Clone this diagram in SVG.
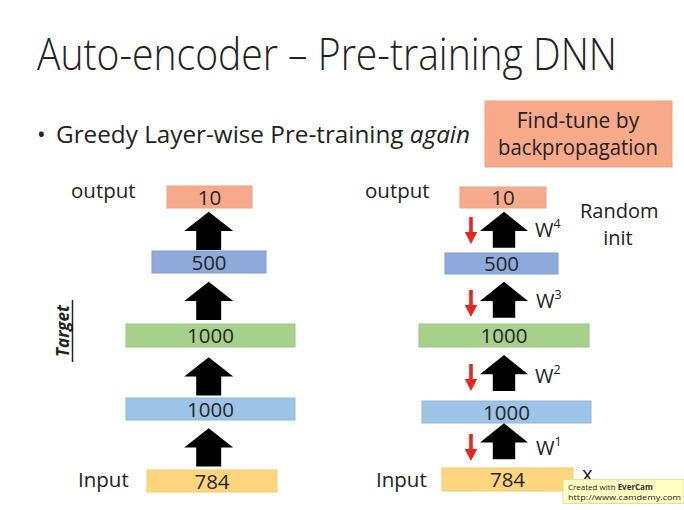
<svg xmlns="http://www.w3.org/2000/svg" width="684" height="510" viewBox="0 0 684 510">
<style>
  text { font-family: "Open Sans", "Liberation Sans", sans-serif; fill: #222; }
  .title { font-size: 44px; font-weight: 300; }
  .bullet { font-size: 23px; }
  .lbl { font-size: 20.5px; }
  .num { font-size: 20.5px; text-anchor: middle; fill: #262626; }
  .w { font-size: 20px; }
  .sup { font-size: 12.5px; }
  .blk { fill: #000; }
  .red { fill: #E8261E; }
  .orange { fill: #F7AA8B; stroke: #F0A080; stroke-width: 1; }
  .blue5 { fill: #8EA9DC; stroke: #7F9DD6; stroke-width: 1; }
  .green { fill: #A8D08D; stroke: #9CC681; stroke-width: 1; }
  .blue1 { fill: #9DC3E6; stroke: #8FB8DE; stroke-width: 1; }
  .gold { fill: #FFD57E; stroke: #F7CB72; stroke-width: 1; }
</style>
<defs>
  <path id="barL" d="M0,0 L24.5,19.3 L12.5,19.3 L12.5,38.3 L-12.5,38.3 L-12.5,19.3 L-24.5,19.3 Z"/>
  <path id="barR" d="M0,0 L24,19.3 L11.2,19.3 L11.2,36 L-11.2,36 L-11.2,19.3 L-24,19.3 Z"/>
  <path id="redA" d="M-1.8,0 L1.8,0 L1.8,15 L6.2,15 L0,27 L-6.2,15 L-1.8,15 Z"/>
</defs>
<rect width="684" height="510" fill="#ffffff"/>

<text class="title" x="37" y="70" textLength="580" lengthAdjust="spacingAndGlyphs">Auto-encoder – Pre-training DNN</text>
<text class="bullet" x="37" y="143">•</text>
<text class="bullet" x="56" y="143" textLength="414" lengthAdjust="spacingAndGlyphs">Greedy Layer-wise Pre-training <tspan font-style="italic">again</tspan></text>

<g id="finetune">
  <rect x="485" y="101" width="187" height="66" fill="#F8A98A" stroke="#F2A080" stroke-width="1"/>
  <text x="578" y="128" font-size="21" text-anchor="middle">Find-tune by</text>
  <text x="578" y="155" font-size="21" text-anchor="middle" textLength="160" lengthAdjust="spacingAndGlyphs">backpropagation</text>
</g>

<g id="target">
  <text transform="translate(69,331) rotate(-90)" font-size="17" font-weight="bold" font-style="italic" text-anchor="middle">Target</text>
  <line x1="72.5" y1="300" x2="72.5" y2="362" stroke="#222" stroke-width="1.5"/>
</g>

<!-- Left network -->
<text class="lbl" x="71" y="198">output</text>
<text class="lbl" x="78" y="487">Input</text>
<g id="L10"><rect class="orange" x="167" y="186" width="85" height="22"/><text class="num" x="209.5" y="204.5">10</text></g>
<g id="L500"><rect class="blue5" x="152" y="251" width="114" height="22"/><text class="num" x="209" y="269.5">500</text></g>
<g id="L1000g"><rect class="green" x="126" y="324" width="169" height="23"/><text class="num" x="210.5" y="343">1000</text></g>
<g id="L1000b"><rect class="blue1" x="126" y="398" width="169" height="22"/><text class="num" x="210.5" y="416.5">1000</text></g>
<g id="L784"><rect class="gold" x="147" y="470" width="130" height="22"/><text class="num" x="212" y="488.5">784</text></g>

<!-- Right network -->
<text class="lbl" x="365" y="198">output</text>
<text class="lbl" x="376" y="487">Input</text>
<g id="R10"><rect class="orange" x="460" y="187" width="86" height="21"/><text class="num" x="503" y="205">10</text></g>
<g id="R500"><rect class="blue5" x="445" y="253" width="113" height="21"/><text class="num" x="501.5" y="271">500</text></g>
<g id="R1000g"><rect class="green" x="419" y="324" width="170" height="23"/><text class="num" x="504" y="343">1000</text></g>
<g id="R1000b"><rect class="blue1" x="422" y="401" width="169" height="22"/><text class="num" x="506.5" y="419.5">1000</text></g>
<g id="R784"><rect class="gold" x="442" y="468" width="131" height="23"/><text class="num" x="507.5" y="486.5">784</text></g>
<text class="lbl" x="582" y="481">x</text>

<text x="580" y="218" font-size="20">Random</text>
<text x="618" y="245" font-size="20" text-anchor="middle">init</text>

<g id="connectors">
  <use href="#barL" class="blk" x="208.7" y="211.7"/>
  <use href="#barL" class="blk" x="208.7" y="281.7"/>
  <use href="#barL" class="blk" x="208.7" y="357.3"/>
  <use href="#barL" class="blk" x="208.7" y="428.3"/>

  <use href="#barR" class="blk" x="504" y="211.7"/>
  <use href="#barR" class="blk" x="504" y="281.7"/>
  <use href="#barR" class="blk" x="504" y="355"/>
  <use href="#barR" class="blk" x="504" y="423.3"/>

  <use href="#redA" class="red" x="471" y="217"/>
  <use href="#redA" class="red" x="471" y="290"/>
  <use href="#redA" class="red" x="471" y="364"/>
  <use href="#redA" class="red" x="471" y="434"/>
</g>

<g id="wlabels">
  <text class="w" x="535" y="237">W<tspan class="sup" dy="-9">4</tspan></text>
  <text class="w" x="536" y="308">W<tspan class="sup" dy="-9">3</tspan></text>
  <text class="w" x="535" y="383">W<tspan class="sup" dy="-9">2</tspan></text>
  <text class="w" x="536" y="455">W<tspan class="sup" dy="-9">1</tspan></text>
</g>

<g id="watermark">
  <rect x="563" y="479.5" width="121" height="24" fill="#FFFFC4" stroke="#E2E29A" stroke-width="1"/>
  <text x="568" y="489.5" font-size="8" fill="#555">Created with <tspan font-weight="bold" fill="#333">EverCam</tspan></text>
  <text x="568" y="499.5" font-size="8" fill="#555" textLength="113" lengthAdjust="spacingAndGlyphs">http://www.camdemy.com</text>
</g>
</svg>
